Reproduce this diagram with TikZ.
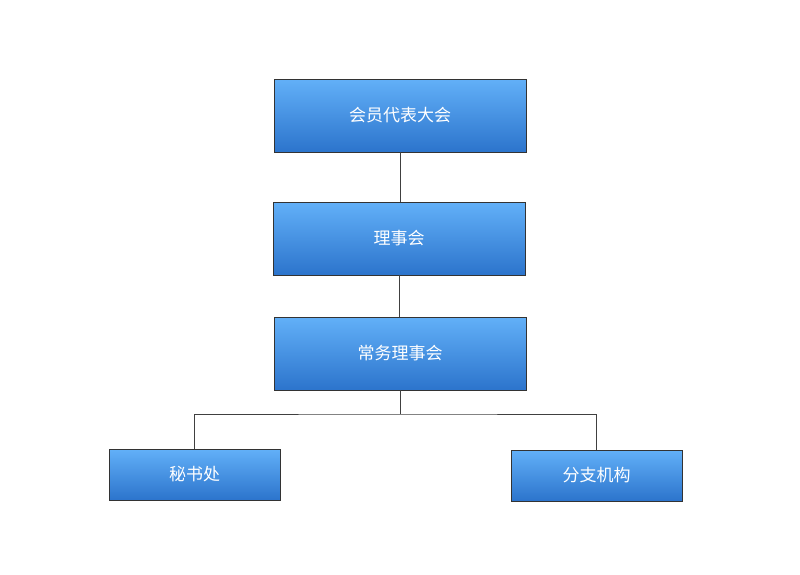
\documentclass[tikz,border=0pt]{standalone}
\usepackage{fontspec}
\newfontfamily\cjk{Noto Sans CJK SC}
\definecolor{topc}{HTML}{62B0F8}
\definecolor{botc}{HTML}{2C74CC}
\begin{document}
\begin{tikzpicture}[x=1pt,y=-1pt,
  box/.style={draw=black!80,line width=0.8pt,top color=topc,bottom color=botc,text=white,font=\cjk\fontsize{17}{20}\selectfont,inner sep=0pt},
  conn/.style={draw=black!75,line width=0.8pt}]
\useasboundingbox (0,0) rectangle (800,574);
\node[box,minimum width=252,minimum height=73] (a) at (400,115.5) {会员代表大会};
\node[box,minimum width=252,minimum height=73] (b) at (399,238.5) {理事会};
\node[box,minimum width=252,minimum height=73] (c) at (400,353.5) {常务理事会};
\node[box,minimum width=171,minimum height=51] (d) at (194.5,474.5) {秘书处};
\node[box,minimum width=171,minimum height=51] (e) at (596.5,475.5) {分支机构};
\coordinate (j) at (400,414);
\draw[conn] (a.south) -- (a.south|-b.north);
\draw[conn] (b.south) -- (b.south|-c.north);
\draw[conn] (c.south) -- (j);
\draw[conn] (d.north) |- (j) -| (e.north);
\end{tikzpicture}
\end{document}
